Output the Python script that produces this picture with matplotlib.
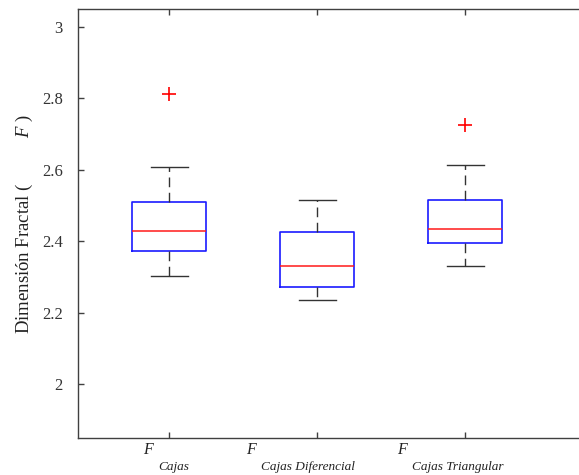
import matplotlib
matplotlib.use('Agg')
import matplotlib.pyplot as plt

plt.rcParams['font.family'] = ['Liberation Serif', 'DejaVu Serif']
plt.rcParams['mathtext.fontset'] = 'custom'
plt.rcParams['mathtext.it'] = 'Liberation Serif:italic'
plt.rcParams['mathtext.rm'] = 'Liberation Serif'

# estadísticos
metodos = ['Cajas', 'Cajas Diferencial', 'Cajas Triangular']
q1 = [2.373, 2.272, 2.395]
mediana = [2.430, 2.330, 2.435]
q3 = [2.509, 2.426, 2.515]
bigote_inf = [2.302, 2.237, 2.331]
bigote_sup = [2.607, 2.515, 2.614]
atipicos = [[2.811], [], [2.725]]
yticks = [2, 2.2, 2.4, 2.6, 2.8, 3]

stats = []
for i, m in enumerate(metodos):
    stats.append({'label': m, 'q1': q1[i], 'med': mediana[i], 'q3': q3[i],
                  'whislo': bigote_inf[i], 'whishi': bigote_sup[i],
                  'fliers': atipicos[i]})

fig = plt.figure(figsize=(5.79, 4.75), dpi=100)
ax = fig.add_axes([78 / 579, 37 / 475, 507 / 579, 429 / 475])

ax.bxp(stats, positions=[1, 2, 3], widths=0.5, showfliers=True,
       boxprops=dict(color='#1a1aff', linewidth=1.2),
       medianprops=dict(color='#ff1a1a', linewidth=1.1),
       whiskerprops=dict(color='#333333', linewidth=1.0, linestyle=(0, (7, 4))),
       capprops=dict(color='#333333', linewidth=1.0),
       flierprops=dict(marker='+', markeredgecolor='red', markersize=10,
                       markeredgewidth=1.2, linestyle='none'))

ax.set_xlim(0.385, 3.81)
ax.set_ylim(1.85, 3.05)
ax.set_yticks(yticks)
ax.set_yticklabels(['2', '2.2', '2.4', '2.6', '2.8', '3'])
ax.set_xticks([1, 2, 3])
ax.set_xticklabels(['', '', ''])

for s in ax.spines.values():
    s.set_color('#404040')
    s.set_linewidth(1.0)
ax.tick_params(direction='in', length=4, width=1.0, color='#404040',
               labelsize=12, labelcolor='#333333', top=True, right=True, pad=11)
ax.tick_params(axis='x', pad=2)

# etiquetas del eje x: F + subíndice
offs = [0.03, -0.06, -0.05]
for i, m in enumerate(metodos):
    sub = ax.text(i + 1 + offs[i], -0.068, m, transform=ax.get_xaxis_transform(),
                  ha='center', va='center', fontsize=9.5, style='italic', color='#222222')
    ax.annotate('F', xy=(0, 1), xycoords=sub, xytext=(-4, 2), textcoords='offset points',
                ha='right', va='bottom', fontsize=11.5, style='italic', color='#222222')

ax.set_ylabel(u'Dimensión Fractal (          $\\mathit{F}$ )', fontsize=13.5,
              color='#222222', labelpad=5)

fig.savefig('out.png', dpi=100)
